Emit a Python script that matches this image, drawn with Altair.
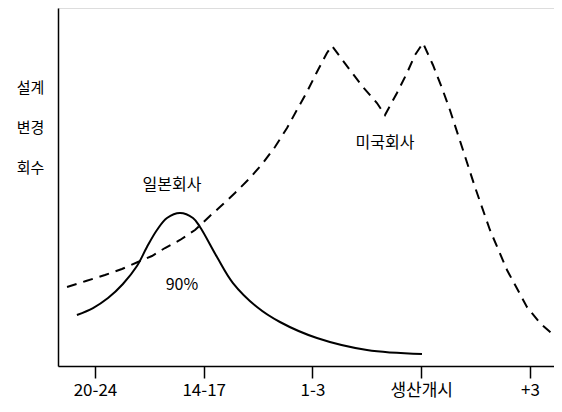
import altair as alt
import pandas as pd

# x positions in tick units: 0="20-24", 1="14-17", 2="1-3", 3="생산개시", 4="+3"
tick_values = [0, 1, 2, 3, 4]
tick_labels = ["20-24", "14-17", "1-3", "생산개시", "+3"]

# 일본회사 (solid)
jp_x = [-0.166, -0.018, 0.120, 0.257, 0.386, 0.478, 0.570, 0.662, 0.782, 0.901, 0.966, 1.122, 1.269, 1.490, 1.701, 2.041, 2.501, 3.007]
jp_y = [14.25, 16.20, 18.99, 22.91, 27.93, 33.24, 37.99, 41.34, 42.74, 41.34, 38.83, 30.45, 23.18, 16.48, 12.29, 7.82, 4.47, 3.35]

# 미국회사 (dashed)
us_x = [-0.257, -0.083, 0.092, 0.248, 0.395, 0.524, 0.644, 0.782, 0.920, 1.057, 1.149, 1.287, 1.425,
        1.545, 1.655, 1.766, 1.857, 1.949, 2.041, 2.133, 2.179, 2.345, 2.464, 2.593, 2.667, 2.777,
        2.869, 2.943, 3.016, 3.108, 3.191, 3.264, 3.375, 3.494, 3.632, 3.789, 3.972, 4.092, 4.248, 4.294]
us_y = [22.07, 23.74, 25.42, 27.09, 29.05, 30.73, 32.96, 35.20, 37.99, 41.90, 44.41, 48.32, 52.51,
        56.70, 61.17, 66.48, 71.51, 76.54, 82.12, 87.43, 89.39, 82.68, 77.93, 73.46, 70.11, 76.26,
        81.84, 86.87, 90.22, 84.08, 77.65, 71.51, 61.17, 50.00, 37.99, 26.82, 16.48, 12.01, 7.82, 6.42]

label_text = ["일본회사", "90%", "미국회사"]
label_x = [0.708, 0.80, 2.667]
label_y = [50.6, 22.6, 62.3]

FONT = "Noto Sans CJK KR"

jp = pd.DataFrame({"x": jp_x, "y": jp_y})
us = pd.DataFrame({"x": us_x, "y": us_y})
labels = pd.DataFrame({"t": label_text, "x": label_x, "y": label_y})

label_expr = "{" + ",".join(f"'{v}':'{l}'" for v, l in zip(tick_values, tick_labels)) + "}[datum.value]"

xscale = alt.Scale(domain=[-0.34, 4.221], nice=False, zero=False)
yscale = alt.Scale(domain=[0, 100], nice=False)

xaxis = alt.Axis(values=tick_values, labelExpr=label_expr, title=None, grid=False,
                 tickSize=12, tickColor="black", tickWidth=1.5, domainColor="black",
                 domainWidth=1.5, labelFont=FONT, labelFontSize=17, labelColor="black",
                 labelPadding=4)
yaxis = alt.Axis(values=[], labels=False, ticks=False, grid=False, domainColor="black",
                 domainWidth=1.5, title=["설계", "변경", "회수"], titleAngle=0,
                 titleX=-28, titleY=79, titleBaseline="middle", titleAlign="center",
                 titleLineHeight=40, titleFont=FONT, titleFontSize=15,
                 titleFontWeight="normal", titleColor="black")

solid = alt.Chart(jp).mark_line(color="black", strokeWidth=2, interpolate="catmull-rom").encode(
    x=alt.X("x:Q", scale=xscale, axis=xaxis),
    y=alt.Y("y:Q", scale=yscale, axis=yaxis),
)
dashed = alt.Chart(us).mark_line(color="black", strokeWidth=2, strokeDash=[10, 7], clip=True).encode(
    x=alt.X("x:Q", scale=xscale),
    y=alt.Y("y:Q", scale=yscale),
)
text = alt.Chart(labels).mark_text(font=FONT, fontSize=16, color="black").encode(
    x=alt.X("x:Q", scale=xscale),
    y=alt.Y("y:Q", scale=yscale),
    text="t:N",
)

chart = alt.layer(solid, dashed, text).properties(
    width=496, height=358,
    autosize=alt.AutoSizeParams(type="none"),
    padding={"left": 50, "top": 0, "right": 0, "bottom": 36},
).configure_view(stroke=None).configure(background="white")

chart.save("out.html", embed_options={"renderer": "svg", "actions": False})
